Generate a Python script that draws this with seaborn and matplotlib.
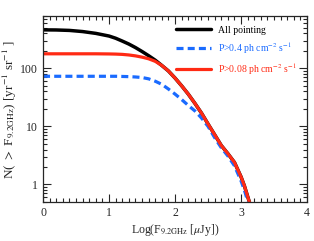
import numpy as np
import pandas as pd
import matplotlib
matplotlib.use('Agg')
import matplotlib.pyplot as plt
import matplotlib.ticker as mticker
import seaborn as sns

# log flux grid and cumulative counts
logf = [0, 0.2, 0.4, 0.6, 0.8, 1.0, 1.1, 1.2, 1.3, 1.4, 1.5, 1.6, 1.7, 1.8, 1.9,
        2.0, 2.1, 2.2, 2.3, 2.4, 2.5, 2.6, 2.7, 2.8, 2.9, 3.0, 3.05, 3.1, 3.13]
n_all = [460, 458, 450, 430, 400, 360, 330, 295, 262, 228, 195, 165, 138, 112, 90,
         68, 50, 36, 25, 17, 11, 7.2, 4.7, 3.4, 2.4, 1.35, 0.95, 0.62, 0.48]
n_p008 = [178, 178, 178, 178, 178, 177, 176, 174, 170, 164, 156, 146, 132, 112, 90,
          68, 50, 36, 25, 17, 11, 7.2, 4.7, 3.4, 2.4, 1.35, 0.95, 0.62, 0.48]
n_p04 = [73, 73, 73, 73, 73, 73, 73, 72.5, 72, 71, 69.5, 66, 60, 53, 44,
         36, 29, 23, 18.5, 14, 10, 6.4, 4.3, 3.1, 2.1, 1.15, 0.8, 0.52, 0.45]

labels = ['All pointing', r'P>0.4 ph cm$^{-2}$ s$^{-1}$', r'P>0.08 ph cm$^{-2}$ s$^{-1}$']

sns.set_style('ticks')
plt.rcParams['font.family'] = ['Liberation Serif', 'DejaVu Serif']
plt.rcParams['mathtext.fontset'] = 'stix'

fig = plt.figure(figsize=(3.14, 2.41), dpi=100)
ax = fig.add_axes([0.137, 0.162, 0.841, 0.772])

sns.lineplot(x=logf, y=n_all, color='black', lw=2.5, label=labels[0], ax=ax)
sns.lineplot(x=logf, y=n_p04, color='#1a6bff', lw=2.3, label=labels[1], ax=ax)
ax.lines[-1].set_dashes([2.2, 1.3])
sns.lineplot(x=logf, y=n_p008, color='#ff2a14', lw=2.3, label=labels[2], ax=ax)

ax.set_yscale('log')
ax.set_xlim(0, 4)
ax.set_ylim(0.5, 800)
ax.xaxis.set_major_locator(mticker.MultipleLocator(1))
ax.xaxis.set_minor_locator(mticker.MultipleLocator(0.1))
ax.yaxis.set_major_formatter(mticker.FuncFormatter(lambda v, p: '%g' % v))
ax.tick_params(direction='in', top=True, right=True, which='both', labelsize=8.5, width=0.8)
ax.tick_params(which='major', length=6)
ax.tick_params(which='minor', length=3)
for s in ax.spines.values():
    s.set_linewidth(0.9)

ax.set_xlabel(r'Log(F$_{9.2\mathrm{GHz}}$ [$\mu$Jy])', fontsize=8.5, labelpad=2)
ax.set_ylabel(r'N( $>$ F$_{9.2\mathrm{GHz}}$) [yr$^{-1}$ sr$^{-1}$ ]', fontsize=9.5, labelpad=1)

ax.legend(loc='upper right', frameon=False, fontsize=7, handlelength=3.6,
          labelcolor='linecolor', borderaxespad=0.6, labelspacing=0.55)

fig.savefig('out.png', dpi=100)
